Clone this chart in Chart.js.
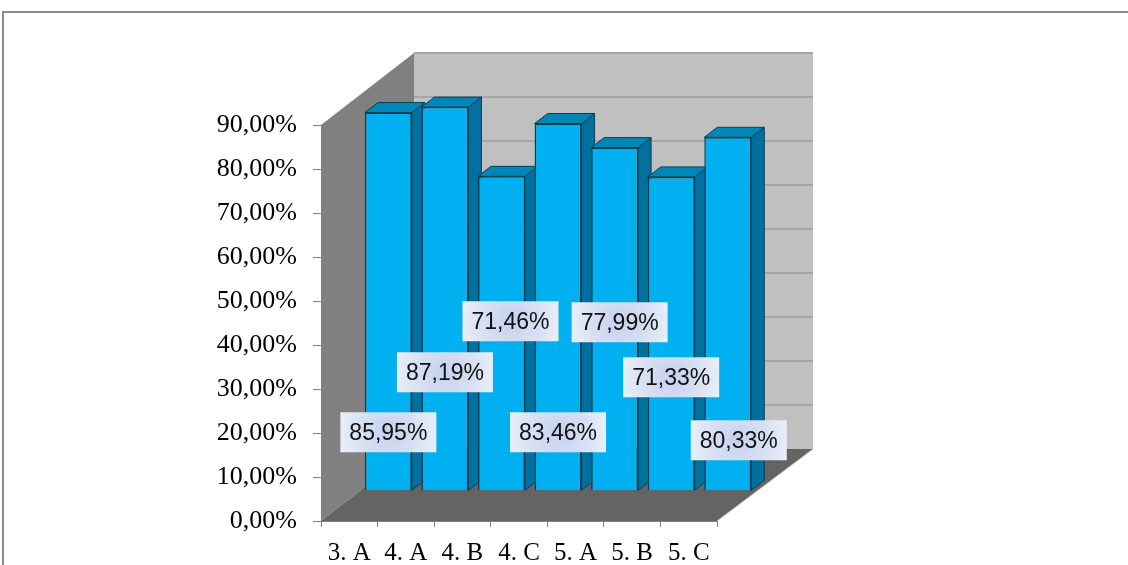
<!DOCTYPE html>
<html>
<head>
<meta charset="utf-8">
<script src="https://cdn.jsdelivr.net/npm/chart.js@4.4.1/dist/chart.umd.min.js"></script>
<style>
  html, body { margin: 0; padding: 0; background: #fff; }
  #wrap { width: 1128px; height: 565px; }
</style>
</head>
<body>
<div id="wrap"><canvas id="passChart" width="1128" height="565"></canvas></div>
<script>
// Data
const categories = ['3. A', '4. A', '4. B', '4. C', '5. A', '5. B', '5. C'];
const passRates = [85.95, 87.19, 71.46, 83.46, 77.99, 71.33, 80.33];
const axisMax = 90;
const axisStep = 10;

// Where each value box sits, relative to the bottom centre of its bar (px)
const labelShift = [[0, -58], [0, -118], [9, -169], [0, -58], [5, -168], [0, -113], [11, -50]];

// 3D look: depth of the whole box, where bars sit in it, depth of one bar
const boxDepth = { dx: 93, dy: -72 };
const barPlane = 0.42;
const barDepth = { dx: 13, dy: -10 };

function pct(v) {
    return v.toFixed(2).replace('.', ',') + '%';
}

function poly(ctx, pts, fill, stroke) {
    ctx.beginPath();
    ctx.moveTo(pts[0][0], pts[0][1]);
    for (let i = 1; i < pts.length; i++) ctx.lineTo(pts[i][0], pts[i][1]);
    ctx.closePath();
    ctx.fillStyle = fill;
    ctx.fill();
    if (stroke) {
        ctx.strokeStyle = stroke;
        ctx.lineWidth = 1;
        ctx.stroke();
    }
}

const frame3d = {
    id: 'frame3d',
    beforeDraw(chart) {
        const ctx = chart.ctx;
        ctx.save();
        ctx.strokeStyle = '#8c8c8c';
        ctx.lineWidth = 2;
        ctx.strokeRect(3, 12, 1300, 700);
        ctx.restore();
    },
    beforeDatasetsDraw(chart) {
        const ctx = chart.ctx;
        const xs = chart.scales.x, ys = chart.scales.y;
        const L = xs.left, R = xs.right;
        const y0 = ys.getPixelForValue(0), yTop = ys.getPixelForValue(axisMax);
        const D = boxDepth;

        ctx.save();
        // back wall
        poly(ctx, [[L + D.dx, yTop + D.dy], [R + D.dx + 3, yTop + D.dy], [R + D.dx + 3, y0 + D.dy], [L + D.dx, y0 + D.dy]], '#c0c0c0');
        ctx.strokeStyle = '#a6a6a6';
        ctx.lineWidth = 2;
        for (let v = axisStep; v <= axisMax; v += axisStep) {
            const y = Math.round(ys.getPixelForValue(v) + D.dy);
            ctx.beginPath();
            ctx.moveTo(L + D.dx, y);
            ctx.lineTo(R + D.dx + 3, y);
            ctx.stroke();
        }
        // left wall
        poly(ctx, [[L, y0], [L, yTop], [L + D.dx, yTop + D.dy], [L + D.dx, y0 + D.dy]], '#808080');
        // floor
        poly(ctx, [[L, y0], [R, y0], [R + D.dx + 3, y0 + D.dy], [L + D.dx, y0 + D.dy]], '#646464');
        ctx.strokeStyle = '#bfbfbf';
        ctx.lineWidth = 1;
        ctx.beginPath();
        ctx.moveTo(R, y0);
        ctx.lineTo(R + D.dx + 3, y0 + D.dy);
        ctx.stroke();

        // sides and tops of the bars, in the bar plane
        const ox = D.dx * barPlane, oy = D.dy * barPlane;
        const d = barDepth;
        chart.getDatasetMeta(0).data.forEach(bar => {
            const p = bar.getProps(['x', 'y', 'base', 'width'], true);
            const l = p.x - p.width / 2 + ox, r = p.x + p.width / 2 + ox;
            const t = p.y + oy, b = p.base + oy;
            poly(ctx, [[r, t], [r + d.dx, t + d.dy], [r + d.dx, b + d.dy], [r, b]], '#00709f', '#0b3d52');
            poly(ctx, [[l, t], [l + d.dx, t + d.dy], [r + d.dx, t + d.dy], [r, t]], '#0087b8', '#0b3d52');
        });

        // front faces drawn by Chart.js, shifted into the bar plane
        ctx.translate(ox, oy);
    },
    afterDatasetsDraw(chart) {
        const ctx = chart.ctx;
        ctx.restore();

        const ox = boxDepth.dx * barPlane, oy = boxDepth.dy * barPlane;
        ctx.save();
        ctx.font = '23px "Liberation Sans", Arial, sans-serif';
        ctx.textAlign = 'center';
        ctx.textBaseline = 'middle';
        chart.getDatasetMeta(0).data.forEach((bar, i) => {
            const p = bar.getProps(['x', 'base'], true);
            const cx = p.x + ox + labelShift[i][0];
            const cy = p.base + oy + labelShift[i][1];
            const w = 96, h = 40;
            const g = ctx.createRadialGradient(cx, cy, 2, cx, cy, 52);
            g.addColorStop(0, '#c6d3ef');
            g.addColorStop(0.55, '#d8e1f3');
            g.addColorStop(1, '#ebf0f9');
            ctx.fillStyle = g;
            ctx.fillRect(cx - w / 2, cy - h / 2, w, h);
            ctx.fillStyle = '#111';
            ctx.fillText(pct(passRates[i]), cx, cy + 1);
        });
        ctx.restore();
    }
};

new Chart(document.getElementById('passChart'), {
    type: 'bar',
    data: {
        labels: categories,
        datasets: [{
            data: passRates,
            backgroundColor: '#00b0f0',
            borderColor: '#0b3d52',
            borderWidth: 1.5,
            barPercentage: 0.83,
            categoryPercentage: 1,
            clip: false
        }]
    },
    options: {
        responsive: false,
        animation: false,
        layout: { padding: { left: 191, top: 125, right: 411, bottom: 0 } },
        plugins: {
            legend: { display: false },
            tooltip: { enabled: false }
        },
        scales: {
            x: {
                afterFit: s => { s.height = 44; },
                grid: { drawOnChartArea: false, tickLength: 6, color: '#808080' },
                border: { color: '#808080' },
                ticks: {
                    color: '#000',
                    padding: 11,
                    font: { family: '"Liberation Serif", "Times New Roman", serif', size: 25 }
                }
            },
            y: {
                min: 0,
                max: axisMax,
                afterFit: s => { s.width = 130; },
                grid: { drawOnChartArea: false, tickLength: 8, color: '#808080' },
                border: { color: '#808080' },
                ticks: {
                    stepSize: axisStep,
                    color: '#000',
                    padding: 16,
                    font: { family: '"Liberation Serif", "Times New Roman", serif', size: 26 },
                    callback: v => pct(v)
                }
            }
        }
    },
    plugins: [frame3d]
});
</script>
</body>
</html>
